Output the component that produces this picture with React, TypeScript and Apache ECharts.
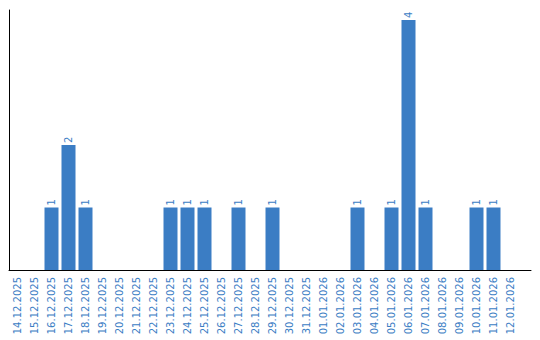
import React, { useEffect, useRef } from "react";
import * as echarts from "echarts";

const categories = [
  "14.12.2025", "15.12.2025", "16.12.2025", "17.12.2025", "18.12.2025",
  "19.12.2025", "20.12.2025", "21.12.2025", "22.12.2025", "23.12.2025",
  "24.12.2025", "25.12.2025", "26.12.2025", "27.12.2025", "28.12.2025",
  "29.12.2025", "30.12.2025", "31.12.2025", "01.01.2026", "02.01.2026",
  "03.01.2026", "04.01.2026", "05.01.2026", "06.01.2026", "07.01.2026",
  "08.01.2026", "09.01.2026", "10.01.2026", "11.01.2026", "12.01.2026",
];

const counts = [
  0, 0, 1, 2, 1,
  0, 0, 0, 0, 1,
  1, 1, 0, 1, 0,
  1, 0, 0, 0, 0,
  1, 0, 1, 4, 1,
  0, 0, 1, 1, 0,
];

const BLUE = "#3b7dc4";

export default function App() {
  const ref = useRef<HTMLDivElement>(null);
  useEffect(() => {
    const chart = echarts.init(ref.current!, null, { renderer: "svg" });
    chart.setOption({
      animation: false,
      grid: [
        { left: 9, width: 510, top: 10, bottom: 70, containLabel: false },
        { left: 9, right: 9, top: 10, bottom: 70, containLabel: false },
      ],
      xAxis: [
        {
          type: "category",
          gridIndex: 0,
          data: categories,
          axisLine: { show: false },
          axisTick: { show: false },
          axisLabel: {
            interval: 0,
            rotate: 90,
            margin: 7,
            color: BLUE,
            fontFamily: "DejaVu Sans",
            fontSize: 10,
          },
        },
        {
          type: "value",
          gridIndex: 1,
          min: 0,
          max: 1,
          axisLine: { show: true, lineStyle: { color: "#000", width: 1 } },
          axisTick: { show: false },
          axisLabel: { show: false },
          splitLine: { show: false },
        },
      ],
      yAxis: [
        {
          type: "value",
          gridIndex: 0,
          min: 0,
          max: 4.16,
          axisLine: { show: true, lineStyle: { color: "#000", width: 1 } },
          axisTick: { show: false },
          axisLabel: { show: false },
          splitLine: { show: false },
        },
        {
          type: "value",
          gridIndex: 1,
          min: 0,
          max: 1,
          show: false,
        },
      ],
      series: [
        {
          type: "bar",
          xAxisIndex: 0,
          yAxisIndex: 0,
          data: counts.map((v) => (v === 0 ? null : v)),
          barWidth: 14,
          itemStyle: { color: BLUE },
          label: {
            show: true,
            position: "insideBottom",
            rotate: 90,
            align: "left",
            verticalAlign: "middle",
            color: BLUE,
            fontFamily: "DejaVu Sans",
            fontSize: 10,
          },
          labelLayout: (params: any) => {
            const r = params.rect;
            return {
              x: r.x + r.width / 2,
              y: r.y - 2,
              rotate: 90,
              align: "left",
              verticalAlign: "middle",
            };
          },
        },
      ],
    });
    return () => chart.dispose();
  }, []);
  return <div ref={ref} style={{ width: 540, height: 340, position: "absolute", left: 0, top: 0 }} />;
}
